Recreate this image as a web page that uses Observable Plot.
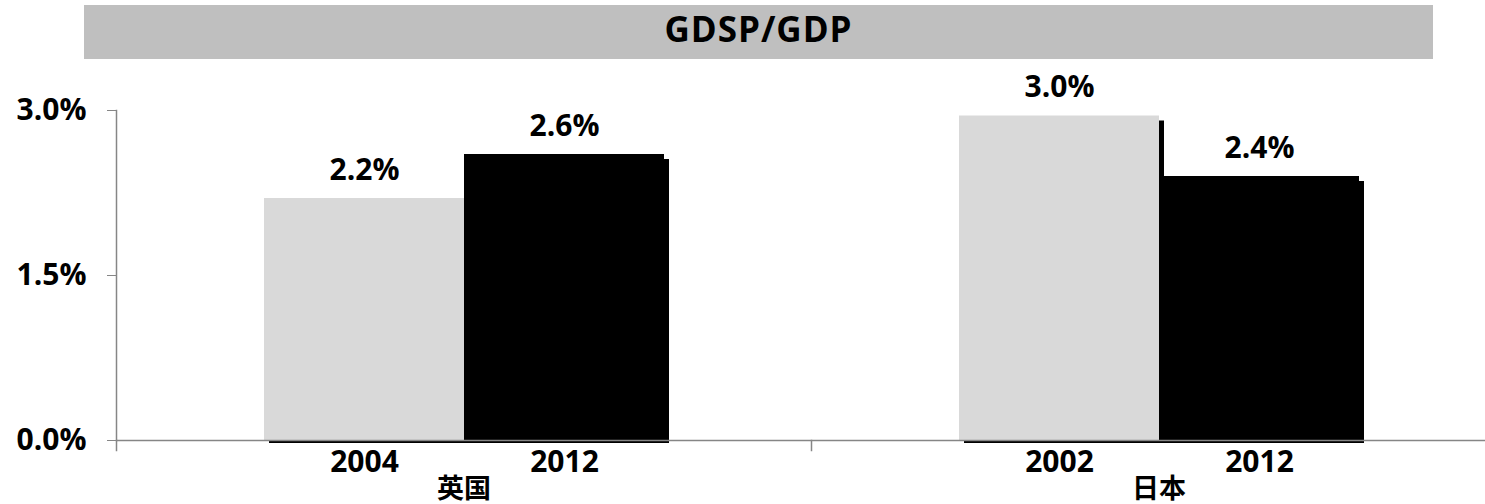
<!DOCTYPE html>
<html>
<head>
<meta charset="utf-8">
<script src="https://cdn.jsdelivr.net/npm/d3@7"></script>
<script src="https://cdn.jsdelivr.net/npm/@observablehq/plot@0.6"></script>
<style>
  html, body { margin: 0; padding: 0; background: #fff; }
  #wrap { position: relative; width: 1485px; height: 504px; overflow: hidden; }
  #title {
    position: absolute; left: 84px; top: 5px; width: 1349px; height: 54px;
    background: #bfbfbf; color: #000; text-align: center; line-height: 54px;
    font: bold 35px "Open Sans", "Noto Sans CJK SC", sans-serif; letter-spacing: 1px; z-index: 2;
  }
  #chart { position: absolute; left: 0; top: 0; }
</style>
</head>
<body>
<div id="wrap">
  <div id="title">GDSP/GDP</div>
  <div id="chart"></div>
</div>
<script>
// ---- data ----
const countries = ["英国", "英国", "日本", "日本"];
const years = ["2004", "2012", "2002", "2012"];
const series = ["early", "late", "early", "late"];
const values = [2.2, 2.6, 2.95, 2.4];          // percent of GDP
const countryOrder = ["英国", "日本"];
const seriesOrder = ["early", "late"];
const seriesColors = ["#d9d9d9", "#000000"];
const yTicks = [0, 1.5, 3.0];

const data = countries.map((c, i) => ({country: c, year: years[i], series: series[i], value: values[i]}));
const fmt = d3.format(".1f");
const font = "'Open Sans', 'Noto Sans CJK SC', sans-serif";

const chart = Plot.plot({
  width: 1485,
  height: 504,
  marginLeft: 116,
  marginRight: -21,
  marginTop: 110,
  marginBottom: 64,
  style: {fontFamily: font, fontSize: "30px", fontWeight: "bold", color: "#000", background: "transparent", overflow: "visible"},
  fx: {domain: countryOrder, padding: 0, axis: null, label: null},
  x: {domain: seriesOrder, paddingInner: 0, paddingOuter: 0.7375, axis: null, label: null},
  y: {domain: [0, 3], axis: null, label: null},
  color: {domain: seriesOrder, range: seriesColors},
  marks: [
    // shadows
    Plot.barY(data, {fx: "country", x: "series", y: "value", fill: "#000", dx: 5, dy: 5, insetBottom: 2}),
    // bars
    Plot.barY(data, {fx: "country", x: "series", y: "value", fill: "series"}),
    // value labels
    Plot.text(data, {fx: "country", x: "series", y: "value", text: d => fmt(d.value) + "%",
      lineAnchor: "bottom", dy: -19, fontSize: 30, fontWeight: "bold", fill: "#000"}),
    // category axis line
    Plot.ruleY([0], {stroke: "#868686", strokeWidth: 1.5}),
    // y axis line
    Plot.frame({anchor: "left", facetAnchor: "left", stroke: "#868686", strokeWidth: 1.5}),
    // category boundary ticks
    Plot.frame({anchor: "left", stroke: "#868686", strokeWidth: 1.5, insetTop: 330, insetBottom: -10}),
    // y axis
    Plot.axisY(yTicks, {tickSize: 9, tickPadding: 21, tickFormat: d => fmt(d) + "%",
      stroke: "#868686", fill: "#000", fontSize: 30, fontWeight: "bold"}),
    // year labels
    Plot.text(data, {fx: "country", x: "series", text: "year", frameAnchor: "bottom",
      lineAnchor: "bottom", dy: 31, fontSize: 30, fontWeight: "bold", fill: "#000"}),
    // country labels
    Plot.text(countryOrder, {fx: d => d, text: d => d, frameAnchor: "bottom",
      lineAnchor: "bottom", dy: 57, fontSize: 27, fontWeight: "bold", fill: "#000"})
  ]
});
document.getElementById("chart").appendChild(chart);
</script>
</body>
</html>
